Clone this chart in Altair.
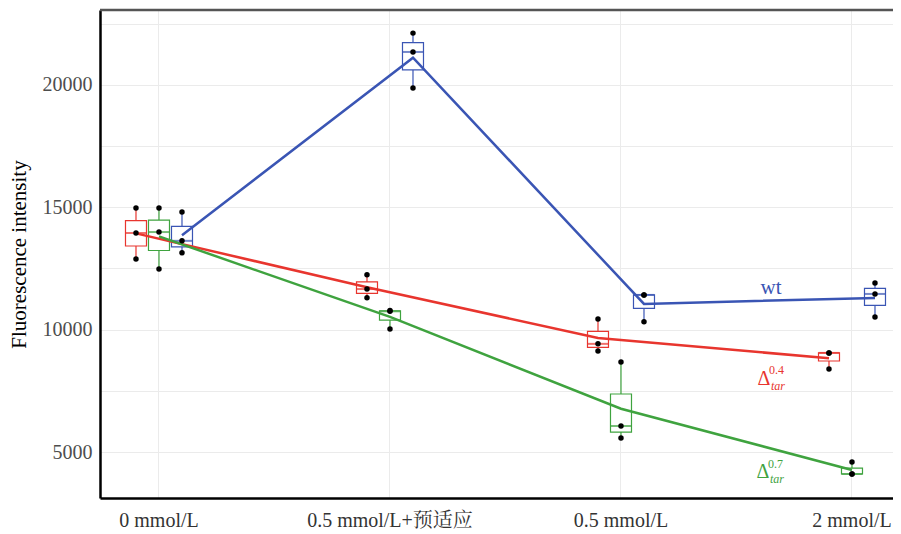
import altair as alt
import pandas as pd

# ---- data ----
categories = ["0 mmol/L", "0.5 mmol/L+预适应", "0.5 mmol/L", "2 mmol/L"]
series_keys = ["d04", "d07", "wt"]
series_colors = ["#E8352E", "#3FA33F", "#3A55B4"]

# three replicate measurements per category
red_vals = [[14970, 13950, 12890], [12240, 11660, 11300], [10440, 9420, 9130], [9050, 9050, 8390]]
green_vals = [[14970, 13990, 12480], [10780, 10750, 10030], [8680, 6060, 5570], [4590, 4100, 4100]]
blue_vals = [[14810, 13630, 13140], [22120, 21350, 19880], [11420, 11420, 10320], [11910, 11460, 10520]]

y_ticks = [5000, 7500, 10000, 12500, 15000, 17500, 20000, 22500]

rows = []
for s, vals in zip(series_keys, [red_vals, green_vals, blue_vals]):
    for ci, (c, reps) in enumerate(zip(categories, vals)):
        for v in reps:
            rows.append({"cat": c, "ci": ci, "series": s, "value": v})
df = pd.DataFrame(rows)

SERIF = "Liberation Serif, Noto Serif CJK SC, Noto Sans CJK SC"
W, H = 793, 488

xenc = alt.X(
    "cat:N",
    sort=categories,
    scale=alt.Scale(domain=categories, paddingInner=0.7013, paddingOuter=0.0671, align=0.79),
    axis=alt.Axis(
        title=None, labelAngle=0, labelFontSize=20, labelColor="#333333", labelPadding=12,
        ticks=False, domainColor="black", domainWidth=2.5, grid=True, gridColor="#ebebeb",
        gridWidth=1, labelFont=SERIF,
    ),
)
xoff = alt.XOffset("series:N", scale=alt.Scale(domain=series_keys, paddingInner=0, paddingOuter=0))
yscale = alt.Scale(domain=[3120, 23065], nice=False, zero=False)
yaxis = alt.Axis(
    values=y_ticks, format="d", labelExpr="datum.value % 5000 == 0 ? datum.label : ''",
    ticks=False, domainColor="black", domainWidth=2.5, labelFontSize=20, labelColor="#4d4d4d",
    labelPadding=8, titleFontSize=21, titleFontWeight="normal", titleColor="black",
    titlePadding=13, gridColor="#ebebeb", gridWidth=1, labelFont=SERIF, titleFont=SERIF,
)


def ye(field):
    return alt.Y(field, scale=yscale, axis=yaxis, title="Fluorescence intensity")


cenc = alt.Color("series:N", scale=alt.Scale(domain=series_keys, range=series_colors), legend=None)
senc = alt.Stroke("series:N", scale=alt.Scale(domain=series_keys, range=series_colors), legend=None)

base = alt.Chart(df)
stats = base.transform_aggregate(
    q1="q1(value)", q3="q3(value)", med="median(value)", lo="min(value)", hi="max(value)",
    groupby=["cat", "series", "ci"],
)
means = base.transform_aggregate(mean="mean(value)", groupby=["cat", "series", "ci"])

top_border = alt.Chart(pd.DataFrame({"a": [0]})).mark_rule(color="#555555", strokeWidth=2.5).encode(
    x=alt.value(0), x2=alt.value(W), y=alt.value(0)
)

whisk = stats.mark_rule(strokeWidth=1.2).encode(x=xenc, xOffset=xoff, y=ye("lo:Q"), y2="hi:Q", color=cenc)
boxes = stats.mark_bar(size=21, fill="white", strokeWidth=1.2).encode(
    x=xenc, xOffset=xoff, y=ye("q1:Q"), y2="q3:Q", stroke=senc
)
medians = stats.mark_tick(size=21, thickness=2).encode(x=xenc, xOffset=xoff, y=ye("med:Q"), color=cenc)
lines = means.mark_line(strokeWidth=2.5).encode(
    x=xenc, xOffset=xoff, y=ye("mean:Q"), color=cenc, order="ci:Q"
)
pts = base.mark_circle(size=30, color="black", opacity=1).encode(x=xenc, xOffset=xoff, y=ye("value:Q"))

# series labels, anchored to the last mean of each series
label_main = ["Δ", "Δ", "wt"]
label_sup = ["0.4", "0.7", ""]
label_sub = ["tar", "tar", ""]
main_off = [(-65, 27), (-89, 8), (-104, -4)]
sup_off = [(-60, 16), (-84, -2)]
sub_off = [(-58, 32), (-82, 13)]

label_layers = []
for i, s in enumerate(series_keys):
    anchor = means.transform_filter(
        (alt.datum.series == s) & (alt.datum.cat == categories[-1])
    )
    enc = dict(x=xenc, xOffset=xoff, y=ye("mean:Q"))
    label_layers.append(
        anchor.mark_text(
            text=label_main[i], dx=main_off[i][0], dy=main_off[i][1], align="center",
            baseline="alphabetic", fontSize=21 if s == "wt" else 20, font=SERIF,
            color=series_colors[i],
        ).encode(**enc)
    )
    if label_sup[i]:
        label_layers.append(
            anchor.mark_text(
                text=label_sup[i], dx=sup_off[i][0], dy=sup_off[i][1], align="left",
                baseline="alphabetic", fontSize=12, font=SERIF, color=series_colors[i],
            ).encode(**enc)
        )
        label_layers.append(
            anchor.mark_text(
                text=label_sub[i], dx=sub_off[i][0], dy=sub_off[i][1], align="left",
                baseline="alphabetic", fontSize=12, font=SERIF, fontStyle="italic",
                color=series_colors[i],
            ).encode(**enc)
        )

chart = alt.layer(top_border, whisk, boxes, medians, lines, pts, *label_layers).properties(
    width=W, height=H,
    padding={"left": 92, "top": 2, "right": 0, "bottom": 34},
    autosize=alt.AutoSizeParams(type="none"),
).configure_view(stroke=None)

chart.save("out.html", embed_options={"renderer": "svg", "actions": False})
